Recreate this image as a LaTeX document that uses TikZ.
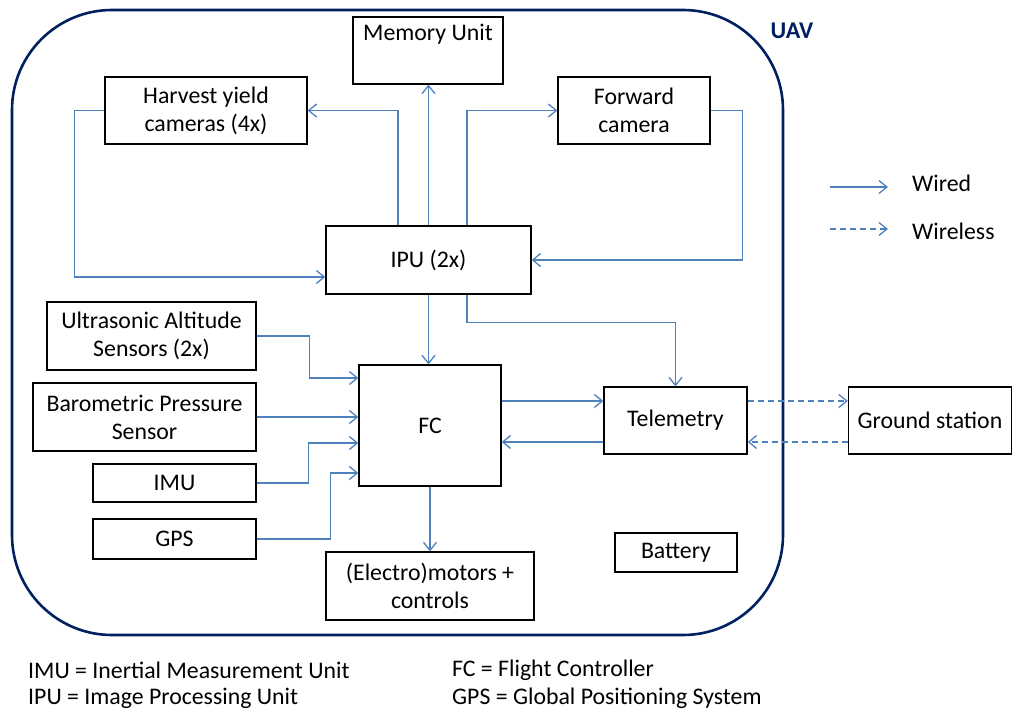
\documentclass[tikz,border=0pt]{standalone}
\usepackage{fontspec}
\setmainfont{Carlito}
\usetikzlibrary{arrows.meta}
\definecolor{wireblue}{RGB}{79,129,189}
\definecolor{navy}{RGB}{0,32,96}
\begin{document}
\begin{tikzpicture}[x=1pt,y=-1pt,
  box/.style={draw=black,line width=1.3pt,rectangle,inner sep=0pt,align=center,
    font=\fontsize{23.8}{28}\selectfont},
  wire/.style={draw=wireblue,line width=1.3pt,-{Straight Barb[length=8pt,width=13pt]}},
  wless/.style={wire,dash pattern=on 6pt off 4pt},
  txt/.style={inner sep=0pt,font=\fontsize{23.8}{28}\selectfont},
  uav/.style={draw=navy,line width=2.6pt,rounded corners=100pt}]
\useasboundingbox (0,0) rectangle (1013,711);
\draw[uav] (12,10) rectangle (783,635);
\node[txt,text=navy,font=\fontsize{24}{28}\selectfont\bfseries] (uavlbl) at (792,31) {UAV};

\node[box,minimum width=150pt,minimum height=67pt] (mem) at (428,50.5) {Memory Unit\\\strut};
\node[box,minimum width=202pt,minimum height=67pt] (harv) at (206,110.5) {Harvest yield\\cameras (4x)};
\node[box,minimum width=152pt,minimum height=67pt] (fwd) at (634,110.5) {Forward\\camera};
\node[box,minimum width=205pt,minimum height=68pt] (ipu) at (428.5,260) {IPU (2x)};
\node[box,minimum width=209pt,minimum height=68pt] (ultra) at (151.5,336) {Ultrasonic Altitude\\Sensors (2x)};
\node[box,minimum width=223pt,minimum height=68pt] (baro) at (144.5,417) {Barometric Pressure\\Sensor};
\node[box,minimum width=163pt,minimum height=38pt] (imu) at (174.5,483) {IMU};
\node[box,minimum width=163pt,minimum height=40pt] (gps) at (174.5,539) {GPS};
\node[box,minimum width=142pt,minimum height=121pt] (fc) at (430,425.5) {FC};
\node[box,minimum width=208pt,minimum height=68pt] (mot) at (430,586) {(Electro)motors +\\controls};
\node[box,minimum width=143pt,minimum height=67pt] (tele) at (675.5,420.5) {Telemetry};
\node[box,minimum width=163pt,minimum height=67pt] (ground) at (930,420.5) {Ground station};
\node[box,minimum width=122pt,minimum height=39pt] (bat) at (676,552.5) {Battery};

% IPU connections
\draw[wire] ([xshift=-30.5pt]ipu.north) |- (harv.east);
\draw[wire] (ipu.north) -- (ipu.north |- mem.south);
\draw[wire] ([xshift=38.5pt]ipu.north) |- (fwd.west);
\draw[wire] (harv.west) -- ++(-30,0) |- ([yshift=-17pt]ipu.west);
\draw[wire] (fwd.east) -- ++(32,0) |- (ipu.east);
\draw[wire] (ipu.south) -- (ipu.south |- fc.north);
\draw[wire] ([xshift=38.5pt]ipu.south) -- ++(0,28) -| (tele.north);

% sensors to FC
\draw[wire] (ultra.east) -- ++(53,0) |- ([yshift=47.5pt]fc.west);
\draw[wire] (baro.east) -- (baro.east -| fc.west);
\draw[wire] (imu.east) -- ++(52,0) |- ([yshift=-17.5pt]fc.west);
\draw[wire] (gps.east) -- ++(74,0) |- ([yshift=-47.5pt]fc.west);
\draw[wire] (fc.south) -- (fc.south |- mot.north);

% telemetry
\coordinate (t1) at ([yshift=19.5pt]tele.west);
\coordinate (t2) at ([yshift=-21.5pt]tele.west);
\draw[wire] (fc.east |- t1) -- (t1);
\draw[wire] (t2) -- (fc.east |- t2);
\draw[wless] (tele.east |- t1) -- (ground.west |- t1);
\draw[wless] (ground.west |- t2) -- (tele.east |- t2);

% legend
\coordinate (lw1) at (830,187);
\coordinate (lw2) at (888,187);
\coordinate (ld1) at (830,229);
\coordinate (ld2) at (888,229);
\draw[wire] (lw1) -- (lw2);
\draw[wless] (ld1) -- (ld2);
\node[txt,anchor=west] (wired) at (912,183) {Wired};
\node[txt,anchor=west] (wireless) at (912,231) {Wireless};

% footnotes
\node[txt,anchor=west] (f1) at (28,670) {IMU = Inertial Measurement Unit};
\node[txt,anchor=west] (f2) at (28,698) {IPU = Image Processing Unit};
\node[txt,anchor=west] (f3) at (452,670) {FC = Flight Controller};
\node[txt,anchor=west] (f4) at (452,698) {GPS = Global Positioning System};
\end{tikzpicture}
\end{document}
